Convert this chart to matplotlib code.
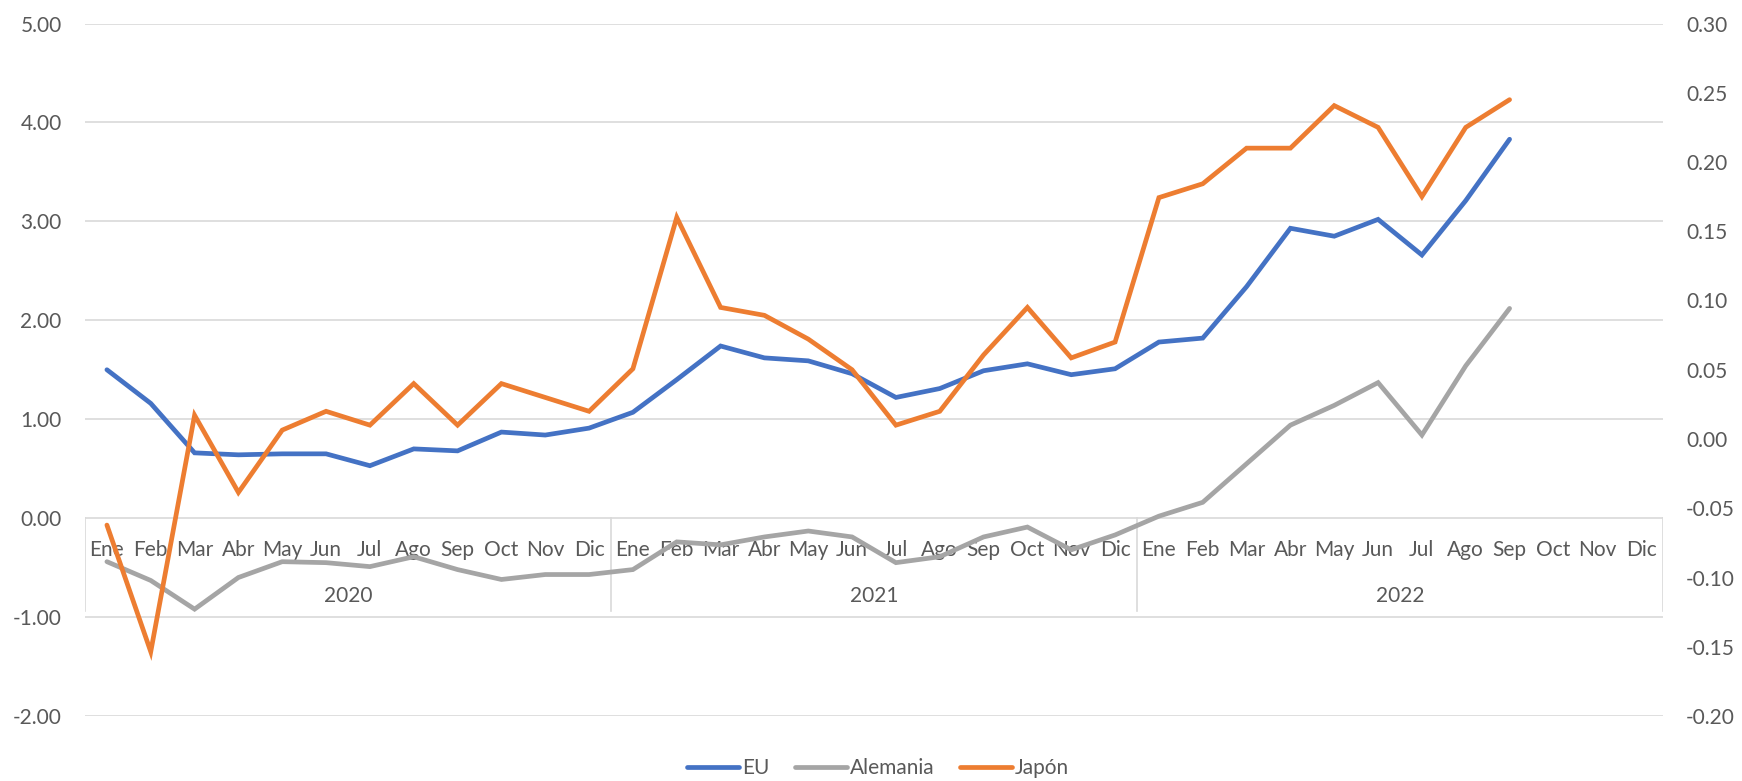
import numpy as np
import matplotlib
matplotlib.use("Agg")
import matplotlib.pyplot as plt
from matplotlib.ticker import FormatStrFormatter, MultipleLocator

plt.rcParams['font.family'] = ['Lato', 'DejaVu Sans']

months = ["Ene", "Feb", "Mar", "Abr", "May", "Jun", "Jul", "Ago", "Sep", "Oct", "Nov", "Dic"]
years = ["2020", "2021", "2022"]

nan = np.nan
eu = [1.50, 1.16, 0.66, 0.64, 0.65, 0.65, 0.53, 0.70, 0.68, 0.87, 0.84, 0.91,
      1.07, 1.40, 1.74, 1.62, 1.59, 1.46, 1.22, 1.31, 1.49, 1.56, 1.45, 1.51,
      1.78, 1.82, 2.34, 2.93, 2.85, 3.02, 2.66, 3.21, 3.83, nan, nan, nan]
alemania = [-0.44, -0.63, -0.92, -0.60, -0.44, -0.45, -0.49, -0.39, -0.52, -0.62, -0.57, -0.57,
            -0.52, -0.24, -0.27, -0.19, -0.13, -0.19, -0.45, -0.39, -0.19, -0.09, -0.32, -0.17,
            0.02, 0.16, 0.55, 0.94, 1.14, 1.37, 0.84, 1.54, 2.12, nan, nan, nan]
japon = [-0.07, -1.35, 1.04, 0.26, 0.89, 1.08, 0.94, 1.36, 0.94, 1.36, 1.22, 1.08,
         1.51, 3.04, 2.13, 2.05, 1.81, 1.50, 0.94, 1.08, 1.65, 2.13, 1.62, 1.78,
         3.24, 3.38, 3.74, 3.74, 4.17, 3.95, 3.25, 3.95, 4.23, nan, nan, nan]

series = [("EU", eu, "#4472C4"), ("Alemania", alemania, "#A5A5A5"), ("Japón", japon, "#ED7D31")]

W, H = 1742, 781
fig = plt.figure(figsize=(W / 100, H / 100), dpi=100)
x0, x1 = 85, 1663
ytop, ybot = 23.5, 716
ax = fig.add_axes([x0 / W, 1 - ybot / H, (x1 - x0) / W, (ybot - ytop) / H])

n = len(months) * len(years)
x = np.arange(n)
lines = []
for name, vals, col in series:
    ln, = ax.plot(x, vals, color=col, lw=3.4, label=name, zorder=4,
                  solid_joinstyle='miter', solid_capstyle='round')
    lines.append(ln)

ax.set_xlim(-0.5, n - 0.5)
ax.set_ylim(-2, 5)
ax.yaxis.set_major_locator(MultipleLocator(1))
ax.yaxis.set_major_formatter(FormatStrFormatter('%.2f'))
ax.grid(axis='y', color='#D9D9D9', lw=1.2, zorder=0)
ax.set_axisbelow(True)
ax.set_xticks([])
for s in ax.spines.values():
    s.set_visible(False)
ax.tick_params(axis='y', length=0, pad=16.8, labelsize=15, labelcolor='#595959')

# category labels (inside the plot, below the zero line)
ppu = (ybot - ytop) / 7.0  # pixels per unit
grey = '#595959'
for i in range(n):
    ax.text(x[i], -32.3 / ppu, months[i % 12], ha='center', va='center',
            fontsize=15, color=grey, zorder=2)
for j, yr in enumerate(years):
    ax.text(j * 12 + 5.5, -78 / ppu, yr, ha='center', va='center',
            fontsize=15, color=grey, zorder=2)
for j in range(len(years) + 1):
    ax.plot([j * 12 - 0.5, j * 12 - 0.5], [0, -93 / ppu], color='#D9D9D9', lw=1.2, zorder=1)

ax2 = ax.twinx()
ax2.set_ylim(-0.20, 0.30)
ax2.yaxis.set_major_locator(MultipleLocator(0.05))
ax2.yaxis.set_major_formatter(FormatStrFormatter('%.2f'))
for s in ax2.spines.values():
    s.set_visible(False)
ax2.tick_params(axis='y', length=0, pad=16.5, labelsize=15, labelcolor='#595959')

fig.legend(handles=lines, labels=[s[0] for s in series], loc='center',
           bbox_to_anchor=(878 / W, 1 - 768 / H), ncol=3, frameon=False,
           fontsize=15, handlelength=2.5, handletextpad=0.15, columnspacing=1.2,
           labelcolor='#595959')

fig.savefig("out.png", dpi=100)
